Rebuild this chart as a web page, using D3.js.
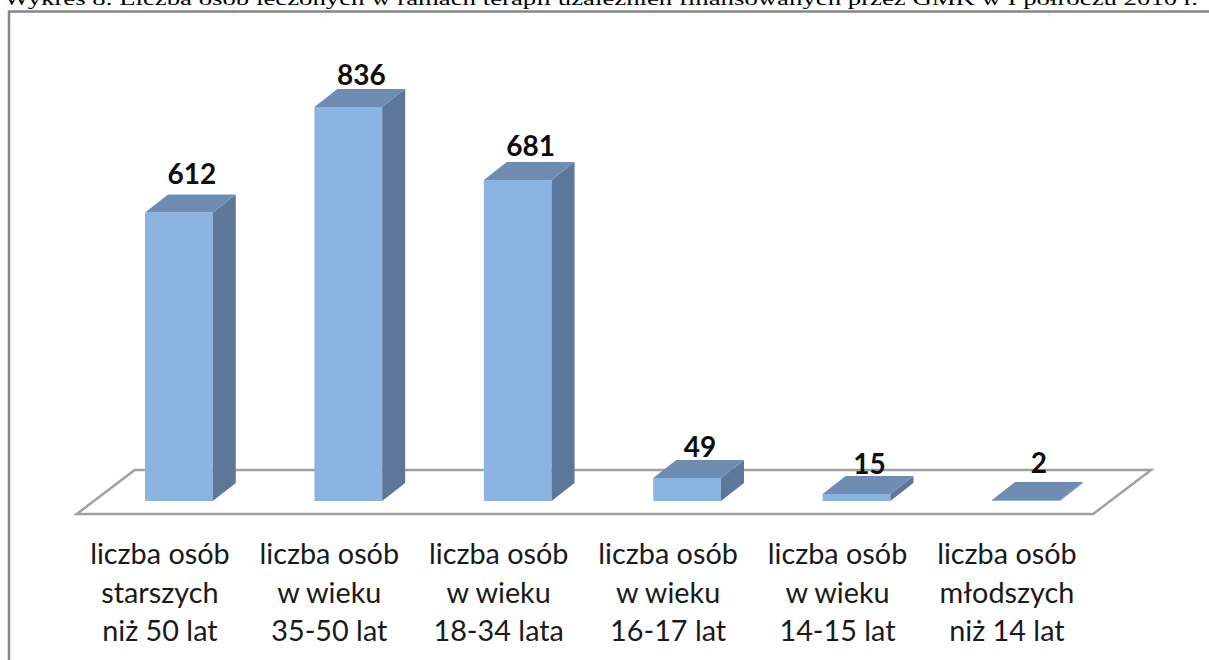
<!DOCTYPE html>
<html>
<head>
<meta charset="utf-8">
<script src="https://cdn.jsdelivr.net/npm/d3@7"></script>
<style>
  html, body { margin: 0; padding: 0; background: #fff; overflow: hidden; }
  svg { display: block; }
</style>
</head>
<body>
<svg id="chart" width="1209" height="660"></svg>
<script>
const titleText = 'Wykres 8. Liczba osób leczonych w ramach terapii uzależnień finansowanych przez GMK w I półroczu 2010 r.';
const categories = ['starsi', '35-50', '18-34', '16-17', '14-15', 'mlodsi'];
const values = [612, 836, 681, 49, 15, 2];
const tickLines = [
  ['liczba osób', 'starszych', 'niż 50 lat'],
  ['liczba osób', 'w wieku', '35-50 lat'],
  ['liczba osób', 'w wieku', '18-34 lata'],
  ['liczba osób', 'w wieku', '16-17 lat'],
  ['liczba osób', 'w wieku', '14-15 lat'],
  ['liczba osób', 'młodszych', 'niż 14 lat'],
];

const svg = d3.select('#chart');
const labelFont = 'Lato, "Open Sans", sans-serif';

const x = d3.scaleBand()
  .domain(categories)
  .range([94.2, 1110.6])
  .paddingInner(0.6)
  .paddingOuter(0.3);

const y = d3.scaleLinear()
  .domain([0, 836])
  .range([501, 107]);

// oblique offset of the bars, and of the floor (which is wider)
const depth = { x: 23, y: -18 };
const floorDepth = { x: 58, y: -44 };
// the value labels do not sit at an even distance above the bars
const labelGaps = [11, 4, 6, 3, 2, 9];
const line = d3.line();

// outer frame, only left and top are visible
svg.append('path')
  .attr('d', line([[9, 660], [9, 11.5], [1209, 11.5]]))
  .attr('fill', 'none')
  .attr('stroke', '#868686')
  .attr('stroke-width', 2.5);

svg.append('text')
  .attr('x', 4)
  .attr('y', 5)
  .attr('font-family', '"Liberation Serif", serif')
  .attr('font-size', 19.2)
  .attr('textLength', 1194)
  .attr('lengthAdjust', 'spacingAndGlyphs')
  .attr('fill', '#000')
  .text(titleText);

// floor
const fx0 = x.range()[0] - (floorDepth.x - depth.x) / 2;
const fx1 = x.range()[1] - (floorDepth.x - depth.x) / 2;
const fy0 = y(0) - (floorDepth.y - depth.y) / 2;
svg.append('path')
  .attr('d', line([
    [fx0, fy0], [fx1, fy0],
    [fx1 + floorDepth.x, fy0 + floorDepth.y],
    [fx0 + floorDepth.x, fy0 + floorDepth.y],
  ]) + 'Z')
  .attr('fill', '#fff')
  .attr('stroke', '#a0a0a0')
  .attr('stroke-width', 2.5);

const data = categories.map((c, i) => ({ c, v: values[i], lines: tickLines[i], gap: labelGaps[i] }));

const bars = svg.selectAll('g.bar')
  .data(data)
  .enter()
  .append('g')
  .attr('class', 'bar');

// front
bars.append('rect')
  .attr('x', d => x(d.c))
  .attr('y', d => y(d.v))
  .attr('width', x.bandwidth())
  .attr('height', d => y(0) - y(d.v))
  .attr('fill', '#8cb4e3');

// side
bars.append('path')
  .attr('d', (d) => {
    const r = x(d.c) + x.bandwidth();
    return line([
      [r, y(0)], [r, y(d.v)],
      [r + depth.x, y(d.v) + depth.y],
      [r + depth.x, y(0) + depth.y],
    ]) + 'Z';
  })
  .attr('fill', '#5c7799');

// top
bars.append('path')
  .attr('d', (d) => {
    const l = x(d.c);
    const r = l + x.bandwidth();
    return line([
      [l, y(d.v)], [r, y(d.v)],
      [r + depth.x, y(d.v) + depth.y],
      [l + depth.x, y(d.v) + depth.y],
    ]) + 'Z';
  })
  .attr('fill', '#6f8db3');

// value labels
bars.append('text')
  .attr('x', d => x(d.c) + x.bandwidth() / 2 + 13)
  .attr('y', d => y(d.v) + depth.y - d.gap)
  .attr('text-anchor', 'middle')
  .attr('font-family', labelFont)
  .attr('font-size', 28)
  .attr('font-weight', 700)
  .attr('fill', '#0d0d0d')
  .text(d => d.v);

// category labels, three lines each
bars.each(function (d) {
  d3.select(this).selectAll('text.tick')
    .data(d.lines)
    .enter()
    .append('text')
    .attr('class', 'tick')
    .attr('x', x(d.c) + x.bandwidth() / 2 - 19)
    .attr('y', (t, i) => 564 + i * 38.5)
    .attr('text-anchor', 'middle')
    .attr('font-family', labelFont)
    .attr('font-size', 28.8)
    .attr('fill', '#1a1a1a')
    .text(t => t);
});
</script>
</body>
</html>
